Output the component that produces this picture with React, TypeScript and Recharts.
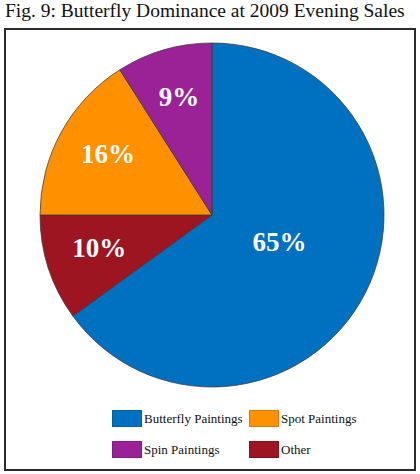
import { PieChart, Pie, Cell, Legend } from 'recharts';

const SEGMENTS = ['Butterfly Paintings', 'Other', 'Spot Paintings', 'Spin Paintings'];
const SHARES = [65, 10, 16, 9];
const LEGEND_ORDER = ['Butterfly Paintings', 'Spot Paintings', 'Spin Paintings', 'Other'];

const COLORS: Record<string, string> = {
  'Butterfly Paintings': '#0070c0',
  Other: '#9c1520',
  'Spot Paintings': '#ff9100',
  'Spin Paintings': '#9b2296',
};

const FONT = '"Liberation Serif", "DejaVu Serif", serif';

const chartData = SEGMENTS.map((name, i) => ({ name, value: SHARES[i] }));

const RADIAN = Math.PI / 180;

function renderLabel(props: any) {
  const { cx, cy, midAngle, outerRadius, value, percent } = props;
  // the big slice keeps its label nearer the middle
  const r = outerRadius * (percent > 0.5 ? 0.44 : 0.69);
  const x = cx + r * Math.cos(-midAngle * RADIAN);
  const y = cy + r * Math.sin(-midAngle * RADIAN);
  return (
    <text
      x={x}
      y={y - (percent > 0.5 ? 7 : 4)}
      fill="#ffffff"
      textAnchor="middle"
      dominantBaseline="central"
      fontFamily={FONT}
      fontWeight="bold"
      fontSize={27}
    >
      {`${value}%`}
    </text>
  );
}

function LegendGrid({ payload }: any) {
  const items = [...(payload || [])].sort(
    (a: any, b: any) => LEGEND_ORDER.indexOf(a.value) - LEGEND_ORDER.indexOf(b.value)
  );
  return (
    <div
      style={{
        display: 'grid',
        gridTemplateColumns: '137px 137px',
        rowGap: 14,
        fontFamily: FONT,
        fontSize: 13,
        color: '#111',
      }}
    >
      {items.map((item: any) => (
        <div key={item.value} style={{ display: 'flex', alignItems: 'center', height: 17 }}>
          <span
            style={{
              display: 'inline-block',
              width: 30,
              height: 17,
              boxSizing: 'border-box',
              background: COLORS[item.value],
              border: '1px solid rgba(0,0,0,0.15)',
              marginRight: 2,
            }}
          />
          <span>{item.value}</span>
        </div>
      ))}
    </div>
  );
}

export default function App() {
  return (
    <div style={{ position: 'absolute', left: 0, top: 0, width: 420, height: 474, background: '#fff' }}>
      <div
        style={{
          position: 'absolute',
          left: 5,
          top: 0,
          fontFamily: FONT,
          fontSize: 19.5,
          color: '#111',
          whiteSpace: 'nowrap',
        }}
      >
        Fig. 9: Butterfly Dominance at 2009 Evening Sales
      </div>
      <div
        style={{
          position: 'absolute',
          left: 4,
          top: 28,
          width: 412,
          height: 443,
          boxSizing: 'border-box',
          border: '2px solid #2b2b2b',
        }}
      />
      <div style={{ position: 'absolute', left: 0, top: 0 }}>
        <PieChart width={420} height={474}>
          <Pie
            data={chartData}
            dataKey="value"
            nameKey="name"
            cx={207}
            cy={210}
            outerRadius={172}
            startAngle={90}
            endAngle={-270}
            stroke="#3a3a3a"
            strokeWidth={0.75}
            label={renderLabel}
            labelLine={false}
            isAnimationActive={false}
          >
            {chartData.map((entry) => (
              <Cell key={entry.name} fill={COLORS[entry.name]} />
            ))}
          </Pie>
          <Legend
            content={<LegendGrid />}
            wrapperStyle={{ left: 112, top: 410, width: 280 }}
          />
        </PieChart>
      </div>
    </div>
  );
}
